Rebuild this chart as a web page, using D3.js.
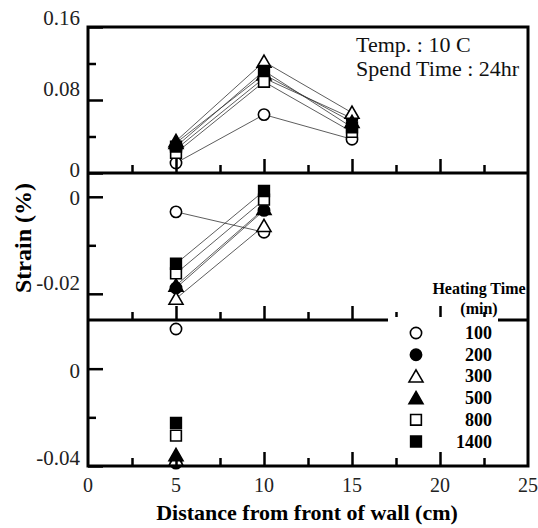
<!DOCTYPE html>
<html><head><meta charset="utf-8">
<script src="https://cdn.jsdelivr.net/npm/d3@7"></script>
<style>body{margin:0;background:#fff}svg{display:block}</style>
</head><body><svg id="c" width="538" height="528"></svg>
<script>
// ---- data ----
const heatingTimes = ["100","200","300","500","800","1400"];
const symbols = ["circleOpen","circleFilled","triangleOpen","triangleFilled","squareOpen","squareFilled"];
const xTop = [5,10,15];
const topValues = [
  [0.011,0.064,0.037],
  [0.026,0.104,0.060],
  [0.035,0.122,0.066],
  [0.033,0.108,0.056],
  [0.022,0.100,0.045],
  [0.029,0.112,0.050]
];
const xMid = [5,10];
const midValues = [
  [-0.0031,-0.0073],
  [-0.0188,-0.0028],
  [-0.0210,-0.0060],
  [-0.0183,-0.0025],
  [-0.0158,-0.0006],
  [-0.0138,0.0012]
];
const xBot = [5];
const botValues = [[0.0163],[-0.0388],[-0.0375],[-0.0355],[-0.0275],[-0.0223]];
const xTicksMajor = [0,5,10,15,20,25];
const xTicksMinor = [2.5,7.5,12.5,17.5,22.5];
const topTicks = [0,0.08,0.16], topMinor=[0.04,0.12];
const midTicks = [0,-0.02], midMinor=[-0.01];
const botTicks = [0,-0.04], botMinor=[-0.02];
const annotation = ["Temp. : 10 C","Spend Time : 24hr"];

// ---- layout ----
const svg = d3.select("#c");
const L=88, R=528;
const x = d3.scaleLinear().domain([0,25]).range([L,R]);
const yTop = d3.scaleLinear().domain([0,0.16]).range([173,27]);
const yMid = d3.scaleLinear().domain([-0.0254,0.0047]).range([320,174]);
const yBot = d3.scaleLinear().domain([-0.04,0.02]).range([466,320]);
const serif = "'Liberation Serif','Times New Roman',serif";
const fmt = d=> d===0 ? "0" : (d<0?"-":"") + Math.abs(d).toFixed(2);

function symPath(name){
  const t = name.startsWith("circle")?d3.symbolCircle:name.startsWith("triangle")?d3.symbolTriangle:d3.symbolSquare;
  const s = name.startsWith("circle")?100:name.startsWith("triangle")?85:115;
  return d3.symbol().type(t).size(s)();
}
function drawMarker(g,name,cx,cy){
  const open = name.endsWith("Open");
  const dy = name.startsWith("triangle")?1.5:0;
  g.append("path").attr("d",symPath(name)).attr("transform",`translate(${cx},${cy+dy})`)
    .attr("fill",open?"#fff":"#000").attr("stroke","#000").attr("stroke-width",1.6);
}

function panel(yS, xs, vals, withLines){
  const g = svg.append("g");
  if(withLines){
    const line = d3.line().x((d,i)=>x(xs[i])).y(d=>yS(d));
    vals.forEach(v=>g.append("path").attr("d",line(v)).attr("fill","none").attr("stroke","#333").attr("stroke-width",0.8));
  }
  vals.forEach((v,k)=>v.forEach((d,i)=>drawMarker(g,symbols[k],x(xs[i]),yS(d))));
}

// ---- axes (ticks inward) ----
function xTicks(yBase){
  const g = svg.append("g").attr("transform",`translate(0,${yBase})`);
  g.call(d3.axisTop(x).tickValues(xTicksMajor.slice(1,5)).tickSize(14).tickFormat(""));
  g.append("g").call(d3.axisTop(x).tickValues(xTicksMinor).tickSize(8).tickFormat(""));
  g.selectAll("path.domain").remove();
  g.selectAll("line").attr("stroke","#000").attr("stroke-width",2.5);
}
function yAxis(yS, major, minor, offsets){
  const g = svg.append("g").attr("transform",`translate(${L},0)`);
  g.call(d3.axisRight(yS).tickValues(major).tickSize(15).tickFormat(""));
  g.append("g").call(d3.axisRight(yS).tickValues(minor).tickSize(8).tickFormat(""));
  g.selectAll("path.domain").remove();
  g.selectAll("line").attr("stroke","#000").attr("stroke-width",2.5);
  const lab = svg.append("g").attr("transform",`translate(${L},0)`)
    .call(d3.axisLeft(yS).tickValues(major).tickSize(0).tickPadding(8).tickFormat(fmt));
  lab.select("path.domain").remove();
  lab.selectAll("text").attr("font-family",serif).attr("font-size",21).attr("fill","#222")
    .attr("dy",(d,i)=>(offsets[i]+7)+"px");
}

panel(yTop,xTop,topValues,true);
panel(yMid,xMid,midValues,true);
panel(yBot,xBot,botValues,false);

xTicks(173); xTicks(320); xTicks(466);
yAxis(yTop,topTicks,topMinor,[-4,-12,-10]);
yAxis(yMid,midTicks,midMinor,[1,-11]);
yAxis(yBot,botTicks,botMinor,[2,-9]);

// frames
const fr = svg.append("g").attr("fill","none").attr("stroke","#000").attr("stroke-width",3);
fr.append("rect").attr("x",L).attr("y",yTop(0.16)).attr("width",R-L).attr("height",yBot(-0.04)-yTop(0.16));
fr.append("line").attr("x1",L).attr("x2",R).attr("y1",yTop(0)).attr("y2",yTop(0));
fr.append("line").attr("x1",L).attr("x2",R).attr("y1",yMid(-0.0254)).attr("y2",yMid(-0.0254));

// x tick labels
const xl = svg.append("g").attr("transform","translate(0,492)");
xTicksMajor.forEach(t=>xl.append("text").attr("x",x(t)).attr("text-anchor","middle")
  .attr("font-family",serif).attr("font-size",20).attr("fill","#222").text(t));

// titles
svg.append("text").attr("x",307).attr("y",520).attr("text-anchor","middle")
  .attr("font-family",serif).attr("font-weight","bold").attr("font-size",22).text("Distance from front of wall (cm)");
svg.append("text").attr("transform","translate(31,238) rotate(-90)").attr("text-anchor","middle")
  .attr("font-family",serif).attr("font-weight","bold").attr("font-size",24).text("Strain (%)");

// annotation
annotation.forEach((t,i)=>svg.append("text").attr("x",356).attr("y",52+i*24)
  .attr("font-family",serif).attr("font-size",22).attr("fill","#111").text(t));

// legend
svg.append("rect").attr("x",388).attr("y",317).attr("width",110).attr("height",6).attr("fill","#fff");
svg.append("text").attr("x",479).attr("y",294).attr("text-anchor","middle").attr("font-family",serif)
  .attr("font-weight","bold").attr("font-size",16).text("Heating Time");
svg.append("text").attr("x",479).attr("y",314).attr("text-anchor","middle").attr("font-family",serif)
  .attr("font-weight","bold").attr("font-size",16).text("(min)");
const lg = svg.append("g");
heatingTimes.forEach((h,i)=>{
  const cy = 333 + i*21.7;
  drawMarker(lg,symbols[i],416,cy);
  lg.append("text").attr("x",492).attr("y",cy+6).attr("text-anchor","end").attr("font-family",serif)
    .attr("font-weight","bold").attr("font-size",18).text(h);
});
</script></body></html>
